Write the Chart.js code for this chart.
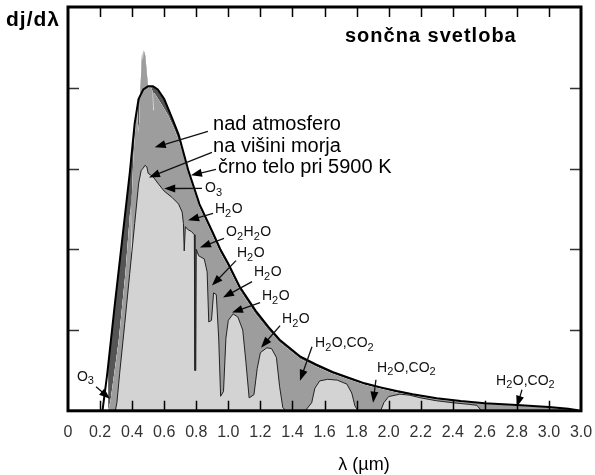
<!DOCTYPE html>
<html>
<head>
<meta charset="utf-8">
<script src="https://cdn.jsdelivr.net/npm/chart.js@4/dist/chart.umd.min.js"></script>
<style>
  html, body { margin: 0; padding: 0; background: #fff; }
  canvas { display: block; }
</style>
</head>
<body>
<canvas id="spectrum" width="595" height="475"></canvas>
<script>
Chart.defaults.font.family = "'Liberation Sans', Arial, sans-serif";

const TICK_LABELS = ['0','0.2','0.4','0.6','0.8','1.0','1.2','1.4','1.6','1.8','2.0','2.2','2.4','2.6','2.8','3.0','3.0'];
const Y_TICKS = [0.5, 1.0, 1.5, 2.0];

/* black body 5900 K */
const BB_WL  = [0.215,0.245,0.29,0.337,0.385,0.416,0.44,0.47,0.50,0.53,0.56,0.60,0.65,0.69,0.75,0.82,0.90,0.95,1.00,1.07,1.17,1.25,1.32,1.45,1.55,1.65,1.75,1.85,1.95,2.05,2.15,2.30,2.45,2.60,2.80,3.00,3.12,3.18];
const BB_VAL = [0,0.23,0.64,1.05,1.47,1.78,1.93,1.99,2.01,2.01,1.99,1.93,1.81,1.71,1.49,1.28,1.11,1.00,0.91,0.77,0.62,0.52,0.44,0.335,0.285,0.24,0.205,0.17,0.145,0.122,0.102,0.078,0.06,0.047,0.036,0.024,0.012,0.003];

/* above the atmosphere */
const ETR_WL  = [0.25,0.265,0.316,0.358,0.388,0.391,0.394,0.398,0.407,0.427,0.432,0.437,0.443,0.445,0.462,0.467,0.473,0.482,0.50,0.515,0.527,0.531,0.535,0.55,0.582,0.624,0.665,0.717,0.75,0.82,0.90,0.95,1.00,1.07,1.17,1.25,1.32,1.45,1.55,1.65,1.75,1.85,1.95,2.05,2.15,2.30,2.45,2.60,2.80,3.00,3.12,3.18];
const ETR_VAL = [0,0.06,0.43,0.85,1.24,1.28,0.98,1.32,1.55,1.86,1.89,1.72,1.78,1.84,2.22,2.17,2.23,2.20,2.00,2.01,1.98,1.86,1.97,1.95,1.90,1.83,1.74,1.60,1.47,1.26,1.09,0.98,0.89,0.75,0.60,0.50,0.425,0.32,0.272,0.23,0.195,0.161,0.136,0.114,0.095,0.072,0.055,0.043,0.032,0.021,0.01,0.002];

/* at sea level */
const SEA_WL  = [0.295,0.305,0.322,0.354,0.385,0.416,0.441,0.457,0.468,0.48,0.492,0.50,0.53,0.56,0.60,0.65,0.69,0.712,0.72,0.725,0.732,0.75,0.77,0.788,0.792,0.797,0.80,0.815,0.85,0.868,0.878,0.895,0.908,0.925,0.94,0.952,0.97,0.985,1.0,1.03,1.06,1.09,1.11,1.13,1.16,1.18,1.20,1.24,1.27,1.30,1.32,1.34,1.36,1.48,1.52,1.54,1.57,1.62,1.68,1.74,1.77,1.79,1.81,1.95,1.97,2.0,2.07,2.13,2.2,2.3,2.4,2.5,2.55,2.58];
const SEA_VAL = [0,0.05,0.23,0.54,0.85,1.16,1.41,1.49,1.50,1.52,1.51,1.47,1.45,1.41,1.36,1.32,1.28,1.23,1.16,0.99,1.14,1.12,1.11,1.09,0.25,0.25,1.00,0.96,0.94,0.86,0.55,0.56,0.73,0.72,0.45,0.09,0.12,0.45,0.56,0.60,0.58,0.50,0.30,0.08,0.10,0.26,0.36,0.39,0.385,0.33,0.15,0.02,0,0,0.05,0.14,0.185,0.195,0.19,0.165,0.11,0.03,0,0,0.05,0.088,0.103,0.097,0.08,0.062,0.05,0.04,0.034,0];

/* labels with arrows: text anchor, arrow start, arrow tip (data units) */
const NOTES = [
  { t: 'nad atmosfero',        at: [0.905, 1.775], from: [0.873, 1.73],  to: [0.541, 1.631], big: true },
  { t: 'na višini morja',      at: [0.905, 1.638], from: [0.898, 1.60],  to: [0.505, 1.445], big: true },
  { t: 'črno telo pri 5900 K', at: [0.936, 1.507], from: [0.923, 1.495], to: [0.767, 1.458], big: true },
  { t: 'O3',      at: [0.855, 1.377], from: [0.836, 1.377], to: [0.60, 1.376] },
  { t: 'H2O',     at: [0.917, 1.247], from: [0.905, 1.222], to: [0.749, 1.179] },
  { t: 'O2H2O',   at: [0.986, 1.104], from: [0.973, 1.067], to: [0.823, 1.011] },
  { t: 'H2O',     at: [1.054, 0.974], from: [1.048, 0.93],  to: [0.898, 0.775] },
  { t: 'H2O',     at: [1.16, 0.856],  from: [1.148, 0.80],  to: [0.967, 0.701] },
  { t: 'H2O',     at: [1.21, 0.707],  from: [1.198, 0.67],  to: [1.023, 0.608] },
  { t: 'H2O',     at: [1.335, 0.565], from: [1.323, 0.527], to: [1.204, 0.391] },
  { t: 'H2O,CO2', at: [1.541, 0.416], from: [1.522, 0.397], to: [1.447, 0.186] },
  { t: 'H2O,CO2', at: [1.928, 0.267], from: [1.921, 0.192], to: [1.903, 0.05] },
  { t: 'H2O,CO2', at: [2.67, 0.186],  from: [2.832, 0.13],  to: [2.80, 0.025] },
  { t: 'O3',      at: [0.056, 0.211], from: [0.175, 0.149], to: [0.262, 0.074] },
];

const pts = (xs, ys) => xs.map((x, i) => ({ x, y: ys[i] }));

const LIGHT = '#d3d3d3';
const MID   = '#9d9d9d';
const DARK  = '#555555';
const NONE  = 'rgba(0,0,0,0)';

function chemText(ctx, text, x, y, size) {
  let cx = x;
  for (const ch of text) {
    const sub = /[0-9]/.test(ch);
    ctx.font = (sub ? Math.round(size * 0.75) : size) + "px 'Liberation Sans', Arial, sans-serif";
    ctx.fillText(ch, cx, sub ? y + size * 0.3 : y);
    cx += ctx.measureText(ch).width + (sub ? 0.5 : 0);
  }
}

function arrow(ctx, x1, y1, x2, y2) {
  const ang = Math.atan2(y2 - y1, x2 - x1), L = 11, W = 4;
  ctx.beginPath(); ctx.moveTo(x1, y1); ctx.lineTo(x2 - Math.cos(ang) * L * 0.8, y2 - Math.sin(ang) * L * 0.8); ctx.stroke();
  ctx.beginPath();
  ctx.moveTo(x2, y2);
  ctx.lineTo(x2 - Math.cos(ang) * L - Math.sin(ang) * W, y2 - Math.sin(ang) * L + Math.cos(ang) * W);
  ctx.lineTo(x2 - Math.cos(ang) * L + Math.sin(ang) * W, y2 - Math.sin(ang) * L - Math.cos(ang) * W);
  ctx.closePath(); ctx.fill();
}

const overlay = {
  id: 'overlay',
  afterDatasetsDraw(chart) {
    const { ctx, chartArea: a, scales: { x, y } } = chart;
    ctx.save();

    // inward ticks
    ctx.lineWidth = 1.5;
    ctx.strokeStyle = '#000';
    x.ticks.slice(1, -1).forEach(t => {
      const px = Math.round(x.getPixelForValue(t.value)) + 0.5;
      ctx.beginPath();
      ctx.moveTo(px, a.bottom); ctx.lineTo(px, a.bottom - 10);
      ctx.moveTo(px, a.top); ctx.lineTo(px, a.top + 10);
      ctx.stroke();
    });
    ctx.strokeStyle = '#333';
    Y_TICKS.forEach(v => {
      const py = Math.round(y.getPixelForValue(v)) + 0.5;
      ctx.beginPath();
      ctx.moveTo(a.left, py); ctx.lineTo(a.left + 11, py);
      ctx.moveTo(a.right, py); ctx.lineTo(a.right - 11, py);
      ctx.stroke();
    });

    // frame
    ctx.lineWidth = 3;
    ctx.strokeStyle = '#000';
    ctx.strokeRect(a.left, a.top, a.right - a.left, a.bottom - a.top);

    // annotations
    ctx.fillStyle = '#000';
    ctx.strokeStyle = '#111';
    ctx.lineWidth = 1.3;
    ctx.textBaseline = 'middle';
    ctx.textAlign = 'left';
    NOTES.forEach(n => {
      arrow(ctx, x.getPixelForValue(n.from[0]), y.getPixelForValue(n.from[1]),
                 x.getPixelForValue(n.to[0]), y.getPixelForValue(n.to[1]));
      const tx = x.getPixelForValue(n.at[0]), ty = y.getPixelForValue(n.at[1]);
      if (n.big) {
        ctx.font = "20px 'Liberation Sans', Arial, sans-serif";
        ctx.fillText(n.t, tx, ty);
      } else {
        ctx.fillStyle = '#111';
        chemText(ctx, n.t, tx, ty, 14);
        ctx.fillStyle = '#000';
      }
    });

    // headings
    ctx.letterSpacing = '1px';
    ctx.font = "bold 21px 'Liberation Sans', Arial, sans-serif";
    ctx.fillText('dj/dλ', 6, 20);
    ctx.font = "bold 20px 'Liberation Sans', Arial, sans-serif";
    ctx.fillText('sončna svetloba', 345, 36);
    ctx.letterSpacing = '0px';
    ctx.textAlign = 'center';
    ctx.font = "18px 'Liberation Sans', Arial, sans-serif";
    ctx.fillText('λ (µm)', 364, 465);
    ctx.restore();
  }
};

new Chart(document.getElementById('spectrum'), {
  type: 'line',
  data: {
    datasets: [
      // 0: black body outline
      { data: pts(BB_WL, BB_VAL), borderColor: '#000', borderWidth: 2, fill: false },
      // 1: sea level
      { data: pts(SEA_WL, SEA_VAL), borderColor: '#222', borderWidth: 1, backgroundColor: LIGHT, fill: 'origin' },
      // 2: above atmosphere
      { data: pts(ETR_WL, ETR_VAL), borderWidth: 0, borderColor: NONE, backgroundColor: MID, fill: 'origin' },
      // 3: black body excess over the solar spectrum
      { data: pts(BB_WL, BB_VAL), borderWidth: 0, borderColor: NONE, fill: { target: 2, above: DARK, below: NONE } },
    ],
  },
  options: {
    responsive: false,
    animation: false,
    devicePixelRatio: 1,
    elements: { point: { radius: 0 }, line: { tension: 0 } },
    layout: { padding: { left: 68, right: 14, top: 7, bottom: 21 } },
    scales: {
      x: {
        type: 'linear', min: 0, max: 3.2,
        grid: { display: false, drawTicks: false },
        border: { display: false },
        ticks: {
          stepSize: 0.2, autoSkip: false, maxRotation: 0, padding: 12,
          color: '#333', font: { size: 16 },
          callback: (v, i) => TICK_LABELS[i],
        },
        afterFit: s => { s.paddingLeft = 0; s.paddingRight = 0; },
      },
      y: { display: false, min: 0, max: 2.5 },
    },
    plugins: { legend: { display: false }, tooltip: { enabled: false } },
  },
  plugins: [overlay],
});
</script>
</body>
</html>
